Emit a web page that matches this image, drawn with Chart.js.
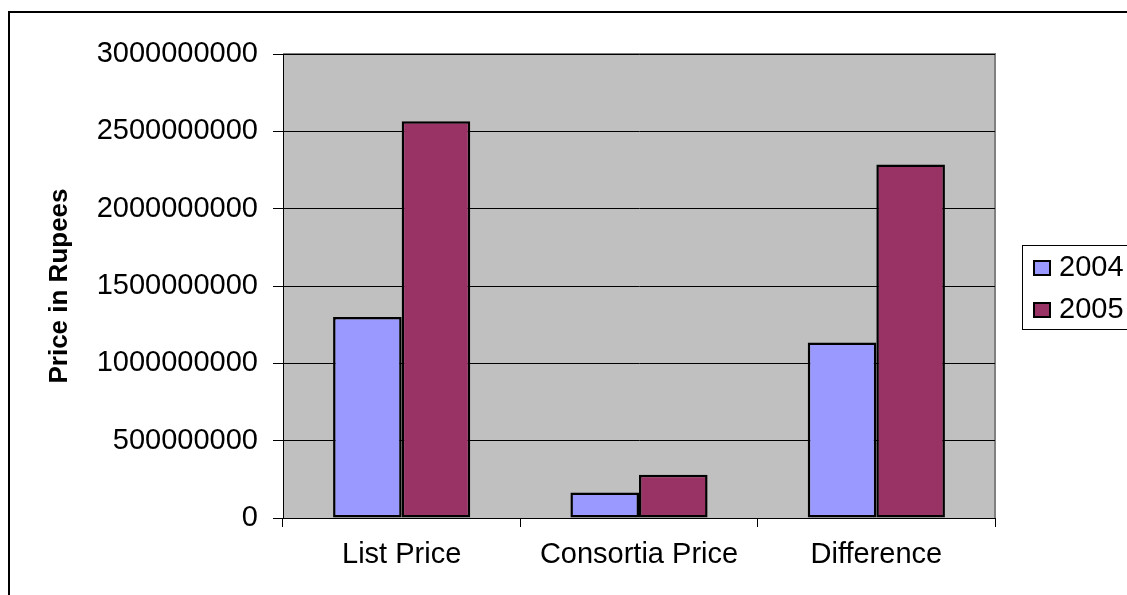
<!DOCTYPE html>
<html>
  <head>
    <title>Price in Rupees</title>
    <script src="https://cdn.jsdelivr.net/npm/chart.js@4.4.0/dist/chart.umd.min.js"></script>
    <style>
      html, body { margin: 0; padding: 0; background: #fff; }
    </style>
  </head>
  <body>
    <canvas id="myChart" width="1127" height="595"></canvas>
    <script>
      // categories and yearly values (rupees)
      var categories = ["List Price", "Consortia Price", "Difference"];
      var years = ["2004", "2005"];
      var values2004 = [1300000000, 165000000, 1135000000];
      var values2005 = [2565000000, 280000000, 2285000000];
      var yTicks = [0, 500000000, 1000000000, 1500000000, 2000000000, 2500000000, 3000000000];

      var FONT = "'Liberation Sans', Arial, sans-serif";

      // grey plot background, outer frame and boxed legend
      var decorations = {
        id: "decorations",
        beforeDraw: function (chart) {
          var c = chart.ctx, a = chart.chartArea;
          c.save();
          c.fillStyle = "#fff";
          c.fillRect(0, 0, chart.width, chart.height);
          c.strokeStyle = "#000";
          c.lineWidth = 2;
          c.strokeRect(9, 12, 1300, 800);
          c.fillStyle = "#c0c0c0";
          c.fillRect(a.left, a.top, a.right - a.left, a.bottom - a.top);
          c.strokeStyle = "#808080";
          c.lineWidth = 2;
          c.beginPath();
          c.moveTo(a.left, a.top);
          c.lineTo(a.right, a.top);
          c.lineTo(a.right, a.bottom);
          c.stroke();
          c.restore();
        },
        afterDraw: function (chart) {
          var c = chart.ctx;
          c.save();
          c.strokeStyle = "#000";
          c.lineWidth = 1;
          c.strokeRect(1022.5, 245.5, 200, 84);
          c.font = "29px " + FONT;
          c.textBaseline = "middle";
          chart.data.datasets.forEach(function (ds, i) {
            var y = 268 + i * 42;
            c.fillStyle = ds.backgroundColor;
            c.fillRect(1034, y - 7, 16, 14);
            c.lineWidth = 2;
            c.strokeStyle = "#000";
            c.strokeRect(1034, y - 7, 16, 14);
            c.fillStyle = "#000";
            c.fillText(ds.label, 1059, y);
          });
          c.restore();
        },
      };

      var ctx = document.getElementById("myChart").getContext("2d");

      var chart = new Chart(ctx, {
        type: "bar",
        data: {
          labels: categories,
          datasets: [
            {
              label: years[0],
              data: values2004,
              backgroundColor: "#9999ff",
              borderColor: "#000",
              borderWidth: 2.5,
              borderSkipped: false,
            },
            {
              label: years[1],
              data: values2005,
              backgroundColor: "#993366",
              borderColor: "#000",
              borderWidth: 2.5,
              borderSkipped: false,
            },
          ],
        },
        options: {
          responsive: false,
          animation: false,
          categoryPercentage: 0.578,
          barPercentage: 1.0,
          layout: { padding: { top: 54, right: 132, left: 0, bottom: 0 } },
          plugins: {
            legend: { display: false },
            tooltip: { enabled: false },
          },
          scales: {
            x: {
              afterFit: function (s) { s.height = 77; },
              grid: {
                offset: true,
                drawOnChartArea: false,
                drawTicks: true,
                tickLength: 9,
                color: "#000",
              },
              border: { color: "#000", width: 1 },
              ticks: {
                color: "#000",
                padding: 11,
                font: { family: FONT, size: 29 },
              },
            },
            y: {
              min: 0,
              max: 3000000000,
              afterFit: function (s) { s.width = 283; },
              afterBuildTicks: function (s) {
                s.ticks = yTicks.map(function (v) { return { value: v }; });
              },
              grid: {
                color: "#000",
                lineWidth: 1,
                tickLength: 10,
              },
              border: { color: "#000", width: 1 },
              ticks: {
                color: "#000",
                padding: 15,
                font: { family: FONT, size: 29 },
                callback: function (v) { return String(v); },
              },
              title: {
                display: true,
                text: "Price in Rupees",
                color: "#000",
                padding: { top: 44, bottom: 0 },
                font: { family: FONT, size: 26, weight: "bold" },
              },
            },
          },
        },
        plugins: [decorations],
      });
    </script>
  </body>
</html>
